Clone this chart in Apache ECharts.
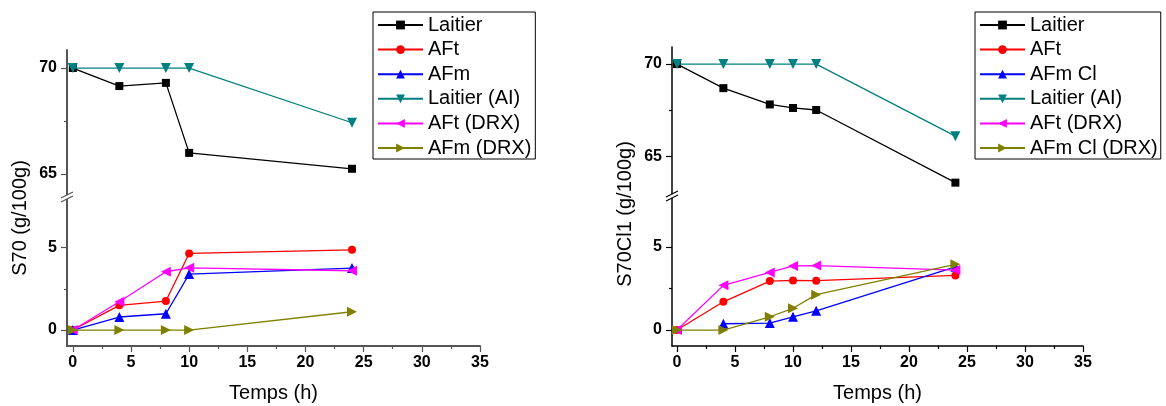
<!DOCTYPE html>
<html><head><meta charset="utf-8">
<script src="https://cdn.jsdelivr.net/npm/echarts@6/dist/echarts.min.js"></script>
<style>
html,body{margin:0;padding:0;background:#fff;}
#wrap{position:relative;width:1166px;height:406px;}
#c1{position:absolute;left:0;top:0;width:583px;height:406px;}
#c2{position:absolute;left:583px;top:0;width:583px;height:406px;}
</style></head>
<body><div id="wrap"><div id="c1"></div><div id="c2"></div></div>
<script>
// ---- Data (left panel: S70) ----
const timesL = [0, 4, 8, 10, 24];
const laitierL = [70, 69.15, 69.3, 66.0, 65.25];
const laitierAIL = [70, 70, 70, 70, 67.42];
const aftL = [0, 1.5, 1.76, 4.65, 4.87];
const afmL = [0, 0.79, 0.99, 3.4, 3.76];
const aftDrxL = [0, 1.72, 3.54, 3.78, 3.6];
const afmDrxL = [0, 0, 0, 0, 1.11];
// ---- Data (right panel: S70Cl1) ----
const timesR = [0, 4, 8, 10, 12, 24];
const laitierR = [70, 68.7, 67.82, 67.63, 67.52, 63.6];
const laitierAIR = [70, 70, 70, 70, 70, 66.11];
const aftR = [0, 1.7, 2.95, 2.99, 2.97, 3.29];
const afmClR = [null, 0.38, 0.42, 0.8, 1.16, 3.81];
const aftDrxR = [0, 2.69, 3.47, 3.86, 3.88, 3.61];
const afmClDrxR = [0, 0, 0.8, 1.31, 2.13, 3.96];
// ---- Tick labels ----
const xMajor = [0, 5, 10, 15, 20, 25, 30, 35];
const xMinor = [2.5, 7.5, 12.5, 17.5, 22.5, 27.5, 32.5];
const yUpMajor = [65, 70];
const yUpMinor = [67.5];
const yLowMajor = [0, 5];
const yLowMinor = [2.5];
const namesL = ['Laitier', 'AFt', 'AFm', 'Laitier (AI)', 'AFt (DRX)', 'AFm (DRX)'];
const namesR = ['Laitier', 'AFt', 'AFm Cl', 'Laitier (AI)', 'AFt (DRX)', 'AFm Cl (DRX)'];

const FONT = 'Liberation Sans, Arial, sans-serif';
const styles = [
  {color:'#000000', symbol:'rect', size:8, rot:0},
  {color:'#ff0000', symbol:'circle', size:8, rot:0},
  {color:'#0000ff', symbol:'triangle', size:10, rot:0},
  {color:'#008080', symbol:'triangle', size:10, rot:180},
  {color:'#ff00ff', symbol:'triangle', size:10, rot:90},
  {color:'#808000', symbol:'triangle', size:10, rot:-90}
];
function pairs(xs, ys){ const out=[]; xs.forEach((x,i)=>{ if(ys[i]!==null) out.push([x, ys[i]]); }); return out; }

function build(cfg){
  const axisCol = cfg.axisColor;
  const lineW = cfg.axisWidth;
  const lbl = {color:'#000', fontWeight:'bold', fontSize:16, fontFamily:FONT};
  const xBase = (gi) => ({
    gridIndex: gi, type:'value', min: cfg.xMin, max: 35, position:'bottom',
    splitLine:{show:false}, minorTick:{show:false}
  });
  const xAxes = [
    Object.assign(xBase(0), {axisLine:{show:false}, axisTick:{show:false}, axisLabel:{show:false}}),
    Object.assign(xBase(1), {
      axisLine:{show:true, onZero:false, lineStyle:{color:axisCol, width:lineW}},
      axisTick:{show:true, length:6, customValues:xMajor, lineStyle:{color:axisCol, width:1.2}},
      axisLabel:Object.assign({customValues:xMajor, margin:9}, lbl),
      name:'Temps (h)', nameLocation:'middle', nameGap:37,
      nameTextStyle:{fontSize:20, color:'#000', fontFamily:FONT}
    }),
    Object.assign(xBase(1), {
      axisLine:{show:false, onZero:false},
      axisTick:{show:true, length:3, customValues:xMinor, lineStyle:{color:axisCol, width:1.2}},
      axisLabel:{show:false}
    })
  ];
  const yA = (gi, min, max, major, minor) => [
    {gridIndex:gi, type:'value', min:min, max:max, position:'left', offset:0,
     splitLine:{show:false},
     axisLine:{show:true, onZero:false, lineStyle:{color:axisCol, width:lineW}},
     axisTick:{show:true, length:6, customValues:major, lineStyle:{color:axisCol, width:1.2}},
     axisLabel:Object.assign({customValues:major, margin:10}, lbl)},
    {gridIndex:gi, type:'value', min:min, max:max, position:'left', offset:0,
     splitLine:{show:false},
     axisLine:{show:false, onZero:false},
     axisTick:{show:true, length:3, customValues:minor, lineStyle:{color:axisCol, width:1.2}},
     axisLabel:{show:false}}
  ];
  const yAxes = [].concat(
    yA(0, cfg.upMin, cfg.upMax, yUpMajor, yUpMinor),
    yA(1, cfg.lowMin, cfg.lowMax, yLowMajor, yLowMinor)
  );
  const series = cfg.series.map((s, i) => {
    const st = styles[i];
    const up = (i === 0 || i === 3);
    return {
      name: cfg.names[i], type:'line',
      xAxisIndex: up ? 0 : 1, yAxisIndex: up ? 0 : 2,
      data: pairs(cfg.times, s),
      symbol: st.symbol, symbolSize: st.size, symbolRotate: st.rot,
      showAllSymbol:true, animation:false,
      itemStyle:{color:st.color},
      lineStyle:{color:st.color, width:1.3},
      z: 2 + i
    };
  });
  const bx = cfg.gridLeft, by = cfg.junction;
  return {
    animation:false,
    textStyle:{fontFamily:FONT},
    grid:[
      {left:cfg.gridLeft, top:cfg.upTop, width:cfg.gridWidth, height:by - cfg.upTop},
      {left:cfg.gridLeft, top:by, width:cfg.gridWidth, height:346 - by}
    ],
    xAxis: xAxes, yAxis: yAxes,
    legend:{
      orient:'vertical', left:cfg.legLeft, top:12,
      data: cfg.names,
      itemWidth:45, itemHeight:11, itemGap:4.6,
      padding:cfg.legPad,
      borderColor:'#000', borderWidth:1, borderRadius:0,
      textStyle:{fontSize:20, color:'#000', fontFamily:FONT, lineHeight:20},
      selectedMode:false
    },
    graphic:[
      {type:'text', x:cfg.nameX, y:cfg.nameY, rotation:Math.PI/2,
       style:{text:cfg.yName, fill:'#000', font:'20px ' + FONT, textAlign:'center', textVerticalAlign:'middle'}},
      {type:'rect', shape:{x:bx-3, y:by-2, width:6, height:4}, style:{fill:'#fff'}, z:100},
      {type:'line', shape:{x1:bx-6, y1:by+1, x2:bx+6, y2:by-5}, style:{stroke:axisCol, lineWidth:1.2}, z:101},
      {type:'line', shape:{x1:bx-6, y1:by+5, x2:bx+6, y2:by-1}, style:{stroke:axisCol, lineWidth:1.2}, z:101}
    ],
    series: series
  };
}

const c1 = echarts.init(document.getElementById('c1'));
c1.setOption(build({
  axisColor:'#555555', axisWidth:2,
  xMin:-0.5, gridLeft:67, gridWidth:413,
  upTop:50, junction:197, upMin:63.92, upMax:70.85, lowMin:-0.97, lowMax:8.08,
  legLeft:373, legPad:[3,4,1,4],
  nameX:20, nameY:218, yName:'S70 (g/100g)',
  names:namesL, times:timesL,
  series:[laitierL, aftL, afmL, laitierAIL, aftDrxL, afmDrxL]
}));
const c2 = echarts.init(document.getElementById('c2'));
c2.setOption(build({
  axisColor:'#000000', axisWidth:1.5,
  xMin:-0.43, gridLeft:89, gridWidth:411,
  upTop:47, junction:196, upMin:62.88, upMax:70.92, lowMin:-0.96, lowMax:8.07,
  legLeft:392, legPad:[3,3,1,4],
  nameX:42, nameY:214, yName:'S70Cl1 (g/100g)',
  names:namesR, times:timesR,
  series:[laitierR, aftR, afmClR, laitierAIR, aftDrxR, afmClDrxR]
}));
</script></body></html>
